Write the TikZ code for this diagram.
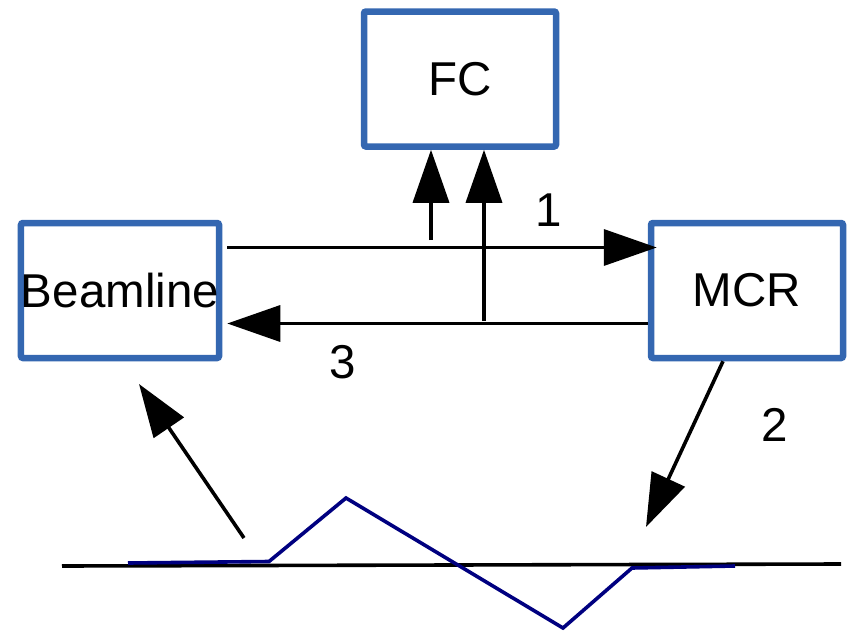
\documentclass[tikz,border=0pt]{standalone}
\usepackage{fontspec}
\setmainfont{Liberation Sans}
\usetikzlibrary{arrows.meta,calc}
\definecolor{boxblue}{RGB}{52,103,177}
\definecolor{navyline}{RGB}{0,0,128}
\begin{document}
\begin{tikzpicture}[x=1pt,y=-1pt,
  blk/.style={draw=boxblue,line width=6.5pt,rounded corners=2pt,fill=white,
    minimum width=192pt,minimum height=135pt,inner sep=0pt,
    font=\fontsize{47.5}{56}\selectfont},
  arr/.style={line width=3.6pt,-{Triangle[length=53pt,width=36pt]}},
  lbl/.style={font=\fontsize{47.5}{56}\selectfont,inner sep=0pt}]
\useasboundingbox (0,0) rectangle (852,632);
\node[blk] (fc) at (460,79) {FC};
\node[blk] (bl) at (120,290.5) {Beamline};
\node[blk] (mcr) at (747,290.5) {MCR};
% arrow 1
\draw[arr] ([xshift=5pt]bl.east |- 0,247.5) -- ([xshift=9pt]mcr.west |- 0,247.5);
% arrow 3
\draw[arr] (mcr.west |- 0,323.5) -- ([xshift=5pt]bl.east |- 0,323.5);
% up arrows
\coordinate (u1) at (431,240);
\draw[arr] (u1) -- (u1 |- fc.south);
\coordinate (u2) at (484,321);
\draw[arr] (u2) -- (u2 |- fc.south);
% arrow 2
\coordinate (t2) at (646,527);
\draw[arr] ([xshift=-24pt]mcr.south) -- (t2);
% arrow to beamline
\coordinate (s4) at (244,538);
\coordinate (t4) at (139,384);
\draw[arr] (s4) -- (t4);
% base line
\coordinate (bl0) at (62,566);
\coordinate (bl1) at (841,564);
\draw[line width=3.6pt] (bl0) -- (bl1);
% blue polyline
\coordinate (p1) at (128,563);
\coordinate (p2) at (269,561.5);
\coordinate (p3) at (346,498);
\coordinate (p4) at (563,628);
\coordinate (p5) at (632,568);
\coordinate (p6) at (735,566);
\draw[navyline,line width=3.6pt] (p1) -- (p2) -- (p3) -- (p4) -- (p5) -- (p6);
% labels
\node[lbl] (l1) at (549,210) {1};
\node[lbl] (l2) at (775,425) {2};
\node[lbl] (l3) at (343,362) {3};
\end{tikzpicture}
\end{document}
